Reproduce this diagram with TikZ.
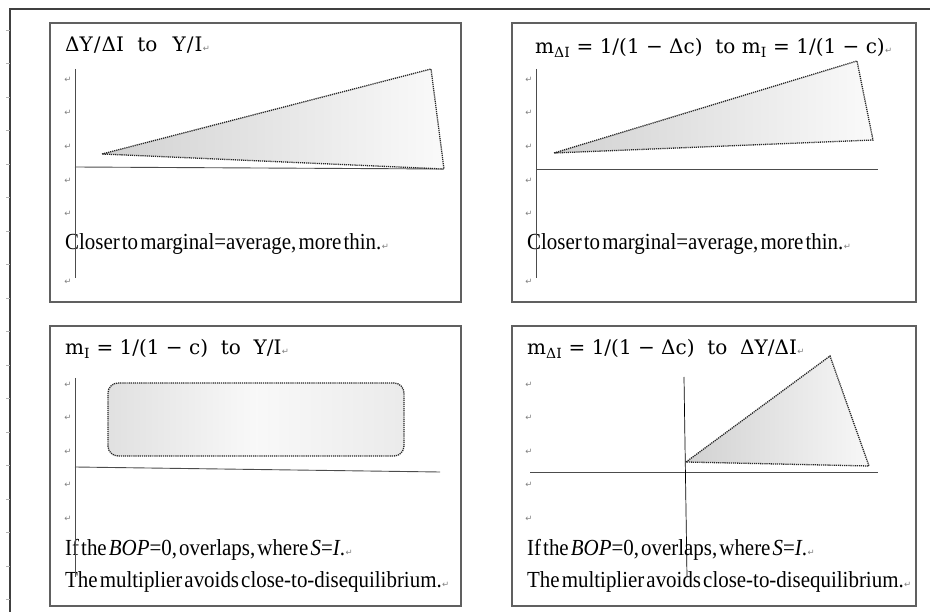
\documentclass[tikz,border=0pt]{standalone}
\usepackage{fontspec}
\setmainfont{Liberation Serif}
\newfontfamily\titlefont{DejaVu Serif}
\newfontfamily\markfont{DejaVu Sans}
\newfontfamily\bodyfont[WordSpace=0.4,FakeStretch=0.91]{Liberation Serif}

\tikzset{
  panel/.style={draw=gray!75!black, line width=1.1pt},
  axisline/.style={draw=black!70, line width=0.9pt},
  dotline/.style={draw=black!85, line width=1.3pt, dash pattern=on 1.2pt off 0.9pt},
  ttl/.style={font=\titlefont\fontsize{20}{20}\selectfont, anchor=base west, inner sep=0pt},
  bodytxt/.style={font=\bodyfont\fontsize{23}{23}\selectfont, anchor=base west, inner sep=0pt},
  retmark/.style={font=\markfont\fontsize{8.5}{8.5}\selectfont, text=gray, inner sep=0pt},
}

\begin{document}
\begin{tikzpicture}[x=1pt,y=-1pt]
\useasboundingbox (0,0) rectangle (930,612);
% page edge and ruler
\draw[black!75, line width=1.2pt] (10,612) -- (10,9) -- (930,9);
\foreach \k in {0,...,17}
  \draw[gray!60] (6,{30+33.5*\k}) -- (10,{30+33.5*\k});

% frames
\draw[panel] (50,23) rectangle (461,302);
\draw[panel] (512,23) rectangle (916,302);
\draw[panel] (50,326) rectangle (461,606);
\draw[panel] (512,326) rectangle (916,606);

% paragraph marks
\foreach \y in {80,113,147,181,214,282} {
  \node[retmark] (pa\y) at (68,\y) {↵};
  \node[retmark] (pb\y) at (529,\y) {↵};
}
\foreach \y in {385,418,452,485,519} {
  \node[retmark] (pc\y) at (68,\y) {↵};
  \node[retmark] (pd\y) at (529,\y) {↵};
}

% top left
\draw[axisline] (75,167) -- (443,169);
\shadedraw[dotline, left color=gray!36, right color=gray!4] (102,154) -- (431,69) -- (444,169) -- cycle;
\node[ttl] (t1) at (65,52) {ΔY\hspace{1pt}/\hspace{1pt}ΔI\hspace{7pt} to\hspace{9pt} Y\hspace{1pt}/\hspace{1pt}I};
\node[retmark, anchor=base west] at (t1.base east) {↵};
\node[bodytxt] (b1) at (65,250) {Closer to marginal=average, more thin.};
\node[retmark, anchor=base west] at (b1.base east) {↵};
\draw[axisline] (75,69) -- (75,278);

% top right
\draw[axisline] (536,169) -- (878,169);
\shadedraw[dotline, left color=gray!36, right color=gray!4] (554,153) -- (857,61) -- (873,140) -- cycle;
\node[ttl] (t2) at (535,54) {m\textsubscript{ΔI} = 1/(1 − Δc)~ to m\textsubscript{I} = 1/(1 − c)};
\node[retmark, anchor=base west] at (t2.base east) {↵};
\node[bodytxt] (b2) at (527,250) {Closer to marginal=average, more thin.};
\node[retmark, anchor=base west] at (b2.base east) {↵};
\draw[axisline] (536,69) -- (536,278);

% bottom left
\draw[axisline] (75,467) -- (440,472);
\shadedraw[dotline, rounded corners=10pt, left color=gray!24, right color=gray!16, middle color=gray!5] (108,383) rectangle (404,456);
\node[ttl] (t3) at (65,355) {m\textsubscript{I} = 1/(1 − c)~ to~ Y/I};
\node[retmark, anchor=base west] at (t3.base east) {↵};
\node[bodytxt] (b3) at (65,555) {If the \textit{BOP}=0, overlaps, where \textit{S}=\textit{I}.};
\node[retmark, anchor=base west] at (b3.base east) {↵};
\node[bodytxt] (c3) at (65,587) {The multiplier avoids close-to-disequilibrium.};
\node[retmark, anchor=base west] at (c3.base east) {↵};
\draw[axisline] (75,378) -- (75,577);

% bottom right
\draw[axisline] (530,472) -- (878,472);
\shadedraw[dotline, left color=gray!36, right color=gray!6] (686,462) -- (830,356) -- (869,466) -- cycle;
\node[ttl] (t4) at (527,355) {m\textsubscript{ΔI} = 1/(1 − Δc)~ to~ ΔY/ΔI};
\node[retmark, anchor=base west] at (t4.base east) {↵};
\node[bodytxt] (b4) at (527,555) {If the \textit{BOP}=0, overlaps, where \textit{S}=\textit{I}.};
\node[retmark, anchor=base west] at (b4.base east) {↵};
\node[bodytxt] (c4) at (527,587) {The multiplier avoids close-to-disequilibrium.};
\node[retmark, anchor=base west] at (c4.base east) {↵};
\draw[black, line width=0.7pt] (684,377) -- (687,577);
\end{tikzpicture}
\end{document}
